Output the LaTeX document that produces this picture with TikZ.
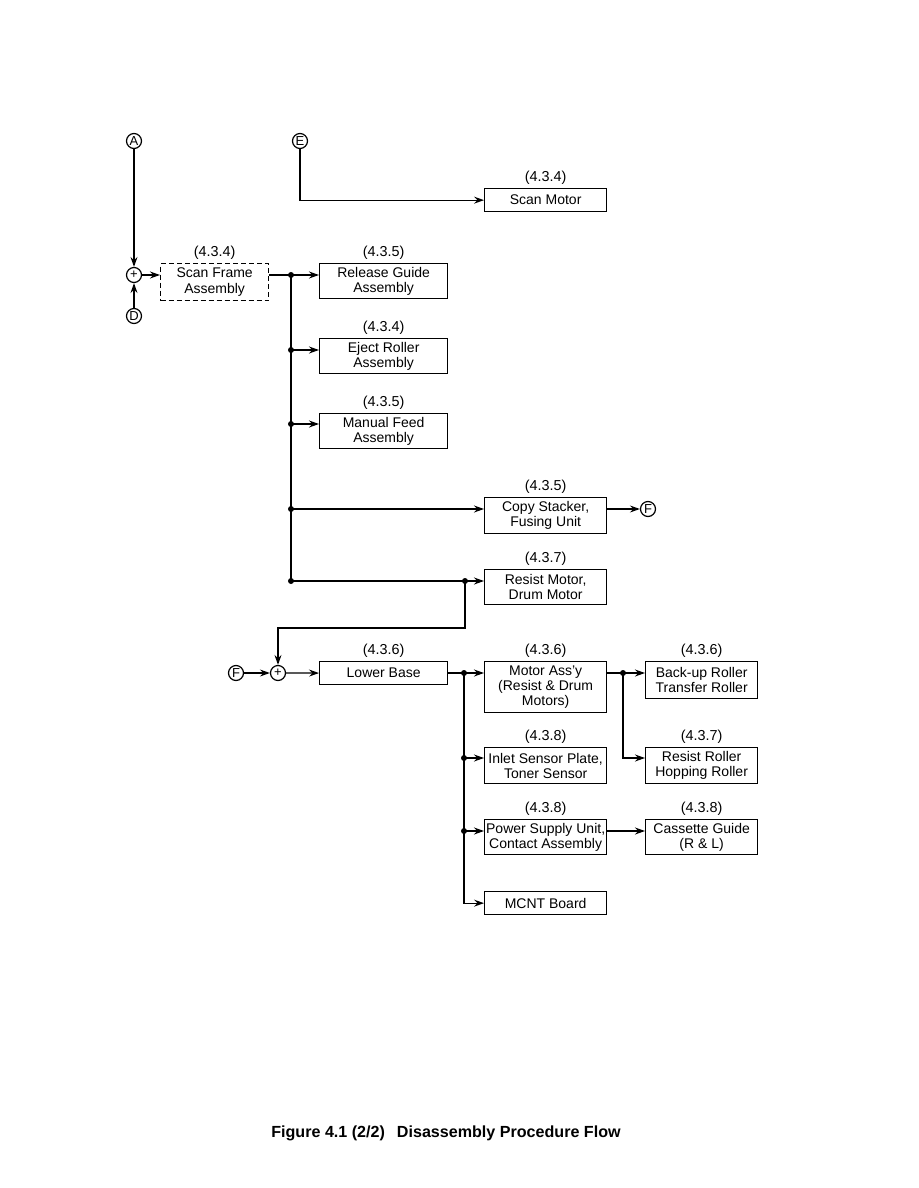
\documentclass[tikz,border=0pt]{standalone}
\usepackage{fontspec}
\setmainfont{Liberation Sans}
\usetikzlibrary{arrows.meta,positioning}

\begin{document}
\begin{tikzpicture}[x=1pt, y=-1pt,
    box/.style={rectangle, draw, anchor=north west, align=center, inner sep=0pt, line width=1.3pt, font=\fontsize{14}{15.2}\selectfont},
    colL/.style={minimum width=128pt},
    colM/.style={minimum width=122pt},
    colR/.style={minimum width=112pt},
    secno/.style={inner sep=1pt, font=\fontsize{14.4}{15}\selectfont},
    letter/.style={circle, draw, line width=1.2pt, inner sep=0pt, minimum size=15pt, font=\fontsize{13}{13}\selectfont},
    arrow/.style={-{Stealth[length=10pt, width=7pt, inset=3.5pt]}, line width=1.3pt},
    line/.style={line width=1.3pt}
]
    \useasboundingbox (0,0) rectangle (918,1188);

    % upper part
    \node[letter] (A) at (134,141) {A};
    \node[letter] (E) at (300,141) {E};
    \node[letter] (plusA) at (134,275) {+};
    \node[letter] (D) at (134,316) {D};

    \node[box, dashed, dash pattern=on 5pt off 3pt, minimum width=108pt, minimum height=37pt] (sf) at (160,263) {Scan Frame\\Assembly};
    \node[box, colM, minimum height=23pt] (sm) at (484,188) {Scan Motor};
    \node[box, colL, minimum height=35pt] (rg) at (319,263) {Release Guide\\Assembly};
    \node[box, colL, minimum height=35pt] (er) at (319,338) {Eject Roller\\Assembly};
    \node[box, colL, minimum height=35pt] (mf) at (319,413) {Manual Feed\\Assembly};
    \node[box, colM, minimum height=36pt] (cs) at (484,497) {Copy Stacker,\\Fusing Unit};
    \node[box, colM, minimum height=35pt] (rm) at (484,569) {Resist Motor,\\Drum Motor};
    \node[letter] (F1) at (648,509) {F};

    \node[secno, above=2pt of sf] (sf-no) {(4.3.4)};
    \node[secno, above=2pt of sm] (sm-no) {(4.3.4)};
    \node[secno, above=2pt of rg] (rg-no) {(4.3.5)};
    \node[secno, above=2pt of er] (er-no) {(4.3.4)};
    \node[secno, above=2pt of mf] (mf-no) {(4.3.5)};
    \node[secno, above=2pt of cs] (cs-no) {(4.3.5)};
    \node[secno, above=2pt of rm] (rm-no) {(4.3.7)};

    \coordinate (j1) at (291,275);
    \coordinate (j2) at (291,350);
    \coordinate (j3) at (291,424);
    \coordinate (j4) at (291,509);
    \coordinate (j5) at (291,581);
    \coordinate (j6) at (465,581);

    \draw[arrow] (A) -- (plusA);
    \draw[arrow] (D) -- (plusA);
    \draw[arrow] (plusA) -- (plusA -| sf.west);
    \draw[arrow] (E) |- (sm);
    \draw[line] (sf.east |- j1) -- (j1) -- (j5);
    \draw[arrow] (j1) -- (j1 -| rg.west);
    \draw[arrow] (j2) -- (j2 -| er.west);
    \draw[arrow] (j3) -- (j3 -| mf.west);
    \draw[arrow] (j4) -- (j4 -| cs.west);
    \draw[arrow] (j5) -- (j5 -| rm.west);
    \draw[arrow] (cs.east |- j4) -- (F1);

    % lower part
    \node[letter] (F2) at (236,673) {F};
    \node[letter] (plusF) at (278,673) {+};
    \coordinate (loop) at (278,628);

    \node[box, colL, minimum height=23pt] (lb) at (319,661) {Lower Base};
    \node[box, colM, minimum height=51pt] (ma) at (484,661) {Motor Ass'y\\(Resist \& Drum\\Motors)};
    \node[box, colM, minimum height=36pt] (is) at (484,747) {Inlet Sensor Plate,\\Toner Sensor};
    \node[box, colM, minimum height=35pt] (ps) at (484,819) {Power Supply Unit,\\Contact Assembly};
    \node[box, colM, minimum height=23pt] (mc) at (484,891) {MCNT Board};
    \node[box, colR, minimum height=37pt] (br) at (645,661) {Back-up Roller\\Transfer Roller};
    \node[box, colR, minimum height=36pt] (rr) at (645,747) {Resist Roller\\Hopping Roller};
    \node[box, colR, minimum height=35pt] (cg) at (645,819) {Cassette Guide\\(R \& L)};

    \node[secno, above=2pt of lb] (lb-no) {(4.3.6)};
    \node[secno, above=2pt of ma] (ma-no) {(4.3.6)};
    \node[secno, above=2pt of is] (is-no) {(4.3.8)};
    \node[secno, above=2pt of ps] (ps-no) {(4.3.8)};
    \node[secno, above=2pt of br] (br-no) {(4.3.6)};
    \node[secno, above=2pt of rr] (rr-no) {(4.3.7)};
    \node[secno, above=2pt of cg] (cg-no) {(4.3.8)};

    \coordinate (j7) at (464,673);
    \coordinate (j8) at (464,758);
    \coordinate (j9) at (464,831);
    \coordinate (j10) at (623,673);

    \draw[arrow] (j6) |- (loop) -- (plusF);
    \draw[arrow] (F2) -- (plusF);
    \draw[arrow] (plusF) -- (lb);
    \draw[line] (lb.east |- j7) -- (j7);
    \draw[arrow] (j7) -- (j7 -| ma.west);
    \draw[arrow] (j7) |- (mc);
    \draw[arrow] (j8) -- (j8 -| is.west);
    \draw[arrow] (j9) -- (j9 -| ps.west);
    \draw[line] (ma.east |- j10) -- (j10);
    \draw[arrow] (j10) -- (j10 -| br.west);
    \draw[arrow] (j10) |- (rr.west |- j8);
    \draw[arrow] (ps.east |- j9) -- (j9 -| cg.west);

    \foreach \j in {j1,j2,j3,j4,j5,j6,j7,j8,j9,j10}
        \fill (\j) circle (3pt);

    \node[font=\bfseries\fontsize{16.1}{18}\selectfont] (caption) at (446,1133) {Figure 4.1 (2/2)\hspace{12pt}Disassembly Procedure Flow};
\end{tikzpicture}
\end{document}
